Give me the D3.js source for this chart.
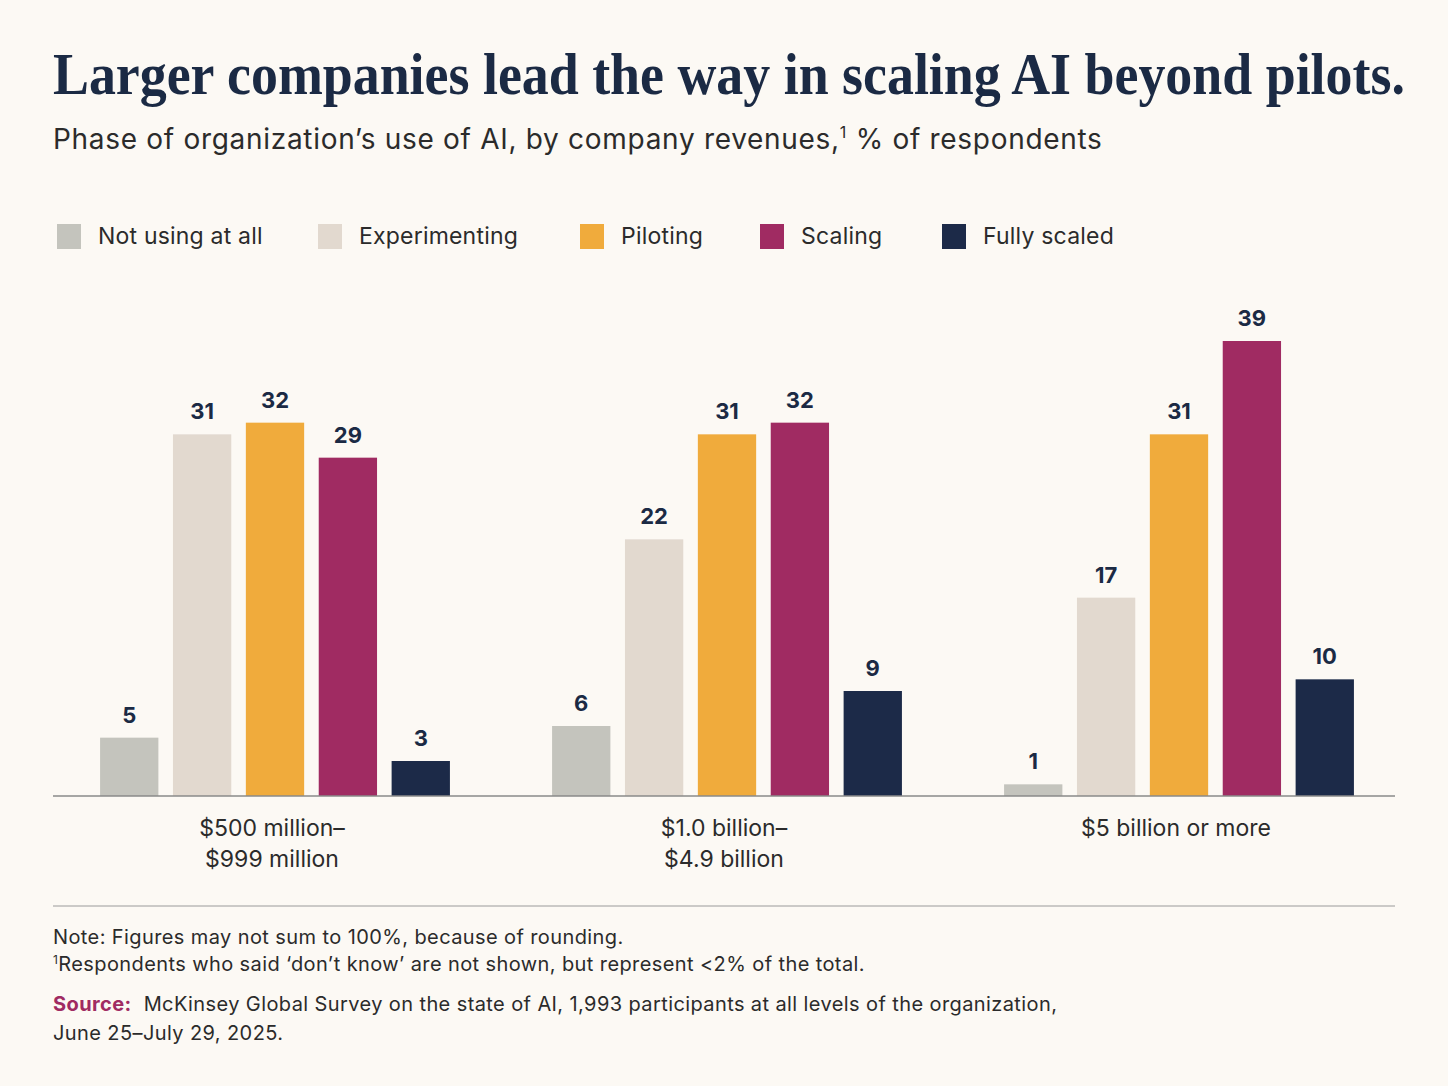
<!DOCTYPE html>
<html>
<head>
<meta charset="utf-8">
<script src="https://cdn.jsdelivr.net/npm/d3@7"></script>
<style>
  html, body { margin: 0; padding: 0; background: #fcf9f4; }
  svg { display: block; }
</style>
</head>
<body>
<script>
// data
const groups = ["$500 million–\n$999 million", "$1.0 billion–\n$4.9 billion", "$5 billion or more"]
const phases = ["Not using at all", "Experimenting", "Piloting", "Scaling", "Fully scaled"]
const notUsing = [5, 6, 1]
const experimenting = [31, 22, 17]
const piloting = [32, 31, 31]
const scaling = [29, 32, 39]
const fullyScaled = [3, 9, 10]

const series = [notUsing, experimenting, piloting, scaling, fullyScaled]

const c = {
    bg:      "#fcf9f4",
    ink:     "#1b2a44",
    text:    "#2b2b2b",
    gray:    "#c4c4bd",
    beige:   "#e2d9cf",
    orange:  "#f0ab3c",
    magenta: "#a02b62",
    navy:    "#1c2a48",
}
const colors = [c.gray, c.beige, c.orange, c.magenta, c.navy]

const W = 1448, H = 1086
const sans = "Inter, 'Noto Sans', sans-serif"

const svg = d3.select("body").append("svg")
    .attr("width", W)
    .attr("height", H)

svg.append("rect").attr("width", W).attr("height", H).attr("fill", c.bg)

// title (squeezed horizontally to the width of the original) + subtitle
const title = svg.append("text")
    .attr("font-family", "'Liberation Serif', serif")
    .attr("font-weight", "bold")
    .attr("font-size", 60)
    .attr("fill", c.ink)
    .text("Larger companies lead the way in scaling AI beyond pilots.")
const tw = title.node().getComputedTextLength()
title.attr("transform", `translate(53,94) scale(${1352 / tw},1)`)

const sub = svg.append("text")
    .attr("x", 53).attr("y", 149)
    .attr("font-family", sans)
    .attr("font-size", 28)
    .attr("letter-spacing", 0.7)
    .attr("fill", c.text)
sub.append("tspan").text("Phase of organization’s use of AI, by company revenues,")
sub.append("tspan").attr("font-size", 16).attr("dy", -11).text("1")
sub.append("tspan").attr("dy", 11).text(" % of respondents")

// legend
const legendX = [57, 318, 580, 760, 942]
const lg = svg.append("g").selectAll("g")
    .data(phases)
    .join("g")
        .attr("transform", (d, i) => `translate(${legendX[i]},224)`)
lg.append("rect")
    .attr("width", 24).attr("height", 25)
    .attr("fill", (d, i) => colors[i])
lg.append("text")
    .attr("x", 41).attr("y", 20)
    .attr("font-family", sans)
    .attr("font-size", 23)
    .attr("letter-spacing", 0.2)
    .attr("fill", c.text)
    .text(d => d)

// scales
const x0 = d3.scaleBand()
    .domain(groups)
    .range([49, 1405])
    .paddingInner(0.226)
    .paddingOuter(0.113)

const x1 = d3.scaleBand()
    .domain(phases)
    .range([0, x0.bandwidth()])
    .paddingInner(0.2)

const y = d3.scaleLinear()
    .domain([0, 39])
    .range([796, 341])

// bars
const g = svg.append("g").selectAll("g")
    .data(groups)
    .join("g")
        .attr("transform", d => `translate(${x0(d)},0)`)

const cells = g.selectAll("g")
    .data((d, gi) => phases.map((p, i) => ({phase: p, value: series[i][gi], i: i})))
    .join("g")

cells.append("rect")
    .attr("x", d => x1(d.phase))
    .attr("y", d => y(d.value))
    .attr("width", x1.bandwidth())
    .attr("height", d => y(0) - y(d.value))
    .attr("fill", d => colors[d.i])

cells.append("text")
    .attr("x", d => x1(d.phase) + x1.bandwidth() / 2)
    .attr("y", d => y(d.value) - 15)
    .attr("text-anchor", "middle")
    .attr("font-family", sans)
    .attr("font-weight", "bold")
    .attr("font-size", 22)
    .attr("fill", c.ink)
    .text(d => d.value)

// axis
const axis = svg.append("g")
    .attr("transform", `translate(0,${y(0)})`)
    .call(d3.axisBottom(x0).tickSize(0).tickPadding(0))
axis.select(".domain").remove()
axis.append("line")
    .attr("x1", 53).attr("x2", 1395)
    .attr("stroke", "#8a8a8a").attr("stroke-width", 1.5)
axis.selectAll(".tick text").remove()
axis.selectAll(".tick").append("text")
    .attr("text-anchor", "middle")
    .attr("font-family", sans)
    .attr("font-size", 23)
    .attr("fill", c.text)
    .selectAll("tspan")
    .data(d => d.split("\n"))
    .join("tspan")
        .attr("x", -3)
        .attr("y", (d, i) => 40 + i * 31)
        .text(d => d)

// footer
svg.append("line")
    .attr("x1", 53).attr("x2", 1395)
    .attr("y1", 906).attr("y2", 906)
    .attr("stroke", "#9a9a9a").attr("stroke-width", 1)

const notes = svg.append("g")
    .attr("font-family", sans)
    .attr("font-size", 20)
    .attr("letter-spacing", 0.4)
    .attr("fill", c.text)

notes.append("text").attr("x", 53).attr("y", 944)
    .text("Note: Figures may not sum to 100%, because of rounding.")
const n2 = notes.append("text").attr("x", 53).attr("y", 971)
n2.append("tspan").attr("font-size", 12).attr("dy", -7).text("1")
n2.append("tspan").attr("dy", 7).text("Respondents who said ‘don’t know’ are not shown, but represent <2% of the total.")

const src = notes.append("text").attr("x", 53).attr("y", 1011)
src.append("tspan").attr("font-weight", "bold").attr("fill", c.magenta).text("Source:")
src.append("tspan").attr("dx", 12).text("McKinsey Global Survey on the state of AI, 1,993 participants at all levels of the organization,")
notes.append("text").attr("x", 53).attr("y", 1040)
    .text("June 25–July 29, 2025.")
</script>
</body>
</html>
